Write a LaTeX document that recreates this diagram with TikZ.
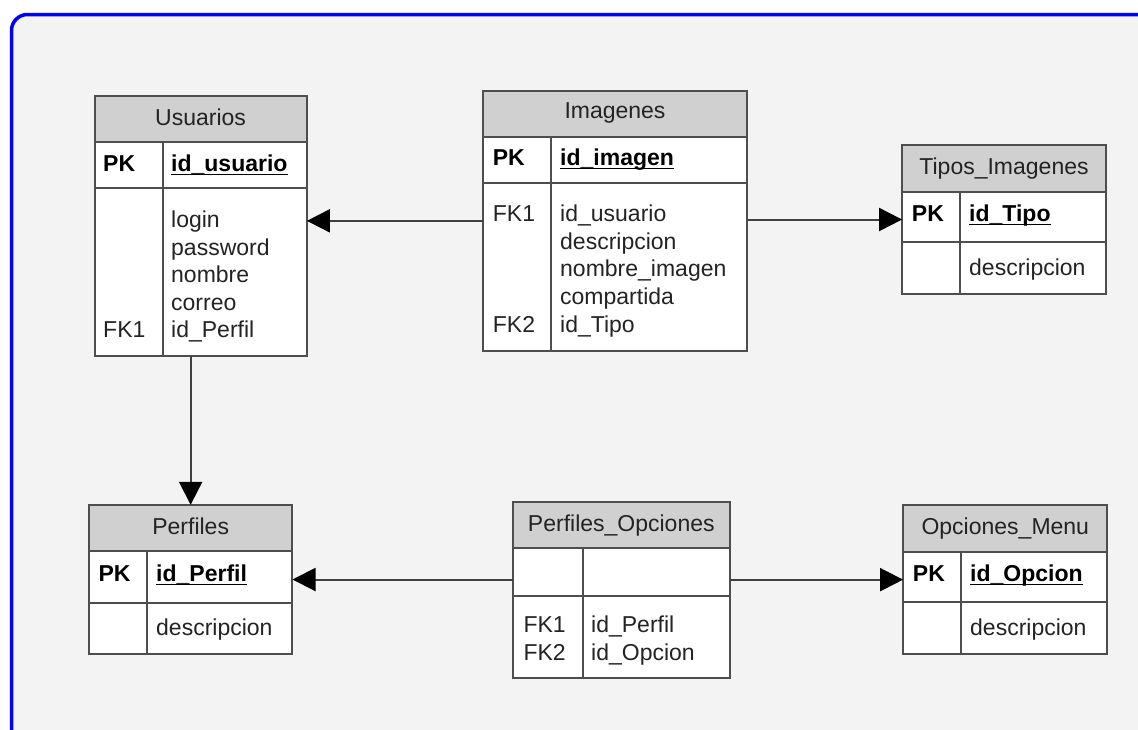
\documentclass[tikz,border=0pt]{standalone}
\usepackage{fontspec}
\setmainfont{Liberation Sans}
\usetikzlibrary{arrows.meta,fit}

\definecolor{framecol}{RGB}{0,0,250}
\definecolor{canvas}{RGB}{243,243,243}
\definecolor{hdrcol}{RGB}{208,208,208}
\definecolor{edgecol}{RGB}{78,78,78}
\definecolor{linkcol}{RGB}{64,64,64}
\definecolor{txtcol}{RGB}{35,35,35}

% primary key field: bold with a rule just under the baseline
\newcommand\keyname[1]{\setbox0\hbox{\bfseries #1}\rlap{\rule[-3.5pt]{\wd0}{1.6pt}}\box0}

% entity box: name, left, top, right, header bottom, key row bottom, bottom, column divider
\newcommand\erdtable[8]{%
  \path[draw=edgecol, line width=2pt, fill=hdrcol] (#2,#3) rectangle (#4,#5);
  \path[draw=edgecol, line width=2pt, fill=white] (#2,#5) rectangle (#4,#7);
  \draw[edgecol, line width=2pt] (#2,#6) -- (#4,#6) (#8,#5) -- (#8,#7);
  \node[inner sep=0pt, fit={(#2,#3) (#4,#7)}] (#1) {};
}

\tikzset{
  lbl/.style={anchor=mid west, inner sep=0pt, text=txtcol, yshift=-5pt},
  ttl/.style={anchor=mid, inner sep=0pt, text=txtcol, yshift=-5pt},
  key/.style={lbl, font=\fontsize{23}{27}\selectfont\bfseries, text=black},
  link/.style={draw=linkcol, line width=2pt,
    -{Triangle[length=23pt,width=23pt,color=black]}},
}

\begin{document}
\begin{tikzpicture}[x=1pt, y=-1pt, font=\fontsize{23}{27}\selectfont]
\useasboundingbox (0,0) rectangle (1138,729);

% canvas with its blue rounded frame
\begin{scope}
  \clip (0,0) rectangle (1138,729);
  \fill[white] (0,0) rectangle (1138,729);
  \draw[framecol, line width=3.5pt, fill=canvas, rounded corners=16pt]
    (11.5,14.5) rectangle (1180,780);
\end{scope}

% Usuarios
\erdtable{usuarios}{94.5}{96}{306.7}{141.7}{188}{356}{162.7}
\node[ttl] (usr-t) at (200.6,118) {Usuarios};
\node[key] (usr-pk) at (103,164) {PK};
\node[key] (usr-k) at (171,164) {\keyname{id\_usuario}};
\node[lbl] (usr-a1) at (171,220) {login};
\node[lbl] (usr-a2) at (171,247.5) {password};
\node[lbl] (usr-a3) at (171,275) {nombre};
\node[lbl] (usr-a4) at (171,302.5) {correo};
\node[lbl] (usr-a5) at (171,330) {id\_Perfil};
\node[lbl] (usr-fk) at (103,330) {FK1};

% Imagenes
\erdtable{imagenes}{483.3}{91}{746.7}{136.7}{182.7}{350.7}{551}
\node[ttl] (img-t) at (615,111) {Imagenes};
\node[key] (img-pk) at (492.7,158) {PK};
\node[key] (img-k) at (560,158) {\keyname{id\_imagen}};
\node[lbl] (img-a1) at (560,214) {id\_usuario};
\node[lbl] (img-a2) at (560,241.5) {descripcion};
\node[lbl] (img-a3) at (560,269) {nombre\_imagen};
\node[lbl] (img-a4) at (560,297) {compartida};
\node[lbl] (img-a5) at (560,325) {id\_Tipo};
\node[lbl] (img-fk1) at (492.7,214) {FK1};
\node[lbl] (img-fk2) at (492.7,325) {FK2};

% Tipos_Imagenes
\erdtable{tipos}{902.3}{145}{1106}{191.7}{241.7}{294}{960}
\node[ttl] (tip-t) at (1004,166.7) {Tipos\_Imagenes};
\node[key] (tip-pk) at (911.7,214) {PK};
\node[key] (tip-k) at (969,214) {\keyname{id\_Tipo}};
\node[lbl] (tip-a1) at (969,268) {descripcion};

% Perfiles
\erdtable{perfiles}{89}{505}{292.3}{551}{602.7}{654}{146.7}
\node[ttl] (per-t) at (190.7,526.7) {Perfiles};
\node[key] (per-pk) at (98.3,574) {PK};
\node[key] (per-k) at (156,574) {\keyname{id\_Perfil}};
\node[lbl] (per-a1) at (156,628) {descripcion};

% Perfiles_Opciones
\erdtable{perfop}{512.7}{502.3}{730}{547.7}{596}{677.7}{582.7}
\node[ttl] (pop-t) at (621.3,524.3) {Perfiles\_Opciones};
\node[lbl] (pop-fk1) at (523.3,625) {FK1};
\node[lbl] (pop-fk2) at (523.3,653.3) {FK2};
\node[lbl] (pop-a1) at (591,625) {id\_Perfil};
\node[lbl] (pop-a2) at (591,653.3) {id\_Opcion};

% Opciones_Menu
\erdtable{opciones}{903.3}{505}{1107.3}{552.3}{602.3}{654.3}{961}
\node[ttl] (opc-t) at (1005.3,527.3) {Opciones\_Menu};
\node[key] (opc-pk) at (912.7,574) {PK};
\node[key] (opc-k) at (970,574) {\keyname{id\_Opcion}};
\node[lbl] (opc-a1) at (970,628.3) {descripcion};

% relationships
\draw[link] (imagenes.west) -- (imagenes.west -| usuarios.east);
\draw[link] (imagenes.east |- tipos.west) -- (tipos.west);
\draw[link] (perfiles.north |- usuarios.south) -- (perfiles.north);
\draw[link] (perfop.west |- perfiles.east) -- (perfiles.east);
\draw[link] (perfop.east |- opciones.west) -- (opciones.west);
\end{tikzpicture}
\end{document}
